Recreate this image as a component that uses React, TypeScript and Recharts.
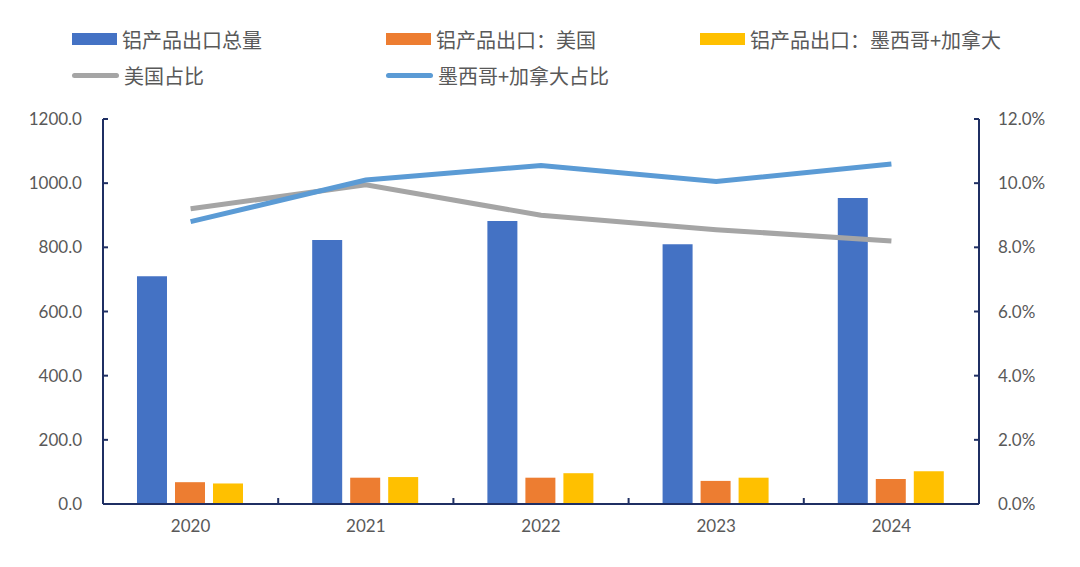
import React from 'react';
import {
  ComposedChart,
  Bar,
  Line,
  XAxis,
  YAxis,
} from 'recharts';

const years = ['2020', '2021', '2022', '2023', '2024'];
const totalExport = [710, 823, 882, 810, 954];
const usExport = [68, 82, 82, 72, 78];
const mxCaExport = [64, 84, 96, 82, 102];
const usShare = [9.2, 9.95, 9.0, 8.55, 8.2];
const mxCaShare = [8.8, 10.1, 10.55, 10.05, 10.6];

const leftTicks = [0, 200, 400, 600, 800, 1000, 1200];
const rightTicks = [0, 2, 4, 6, 8, 10, 12];

const data = years.map((year, i) => ({
  year,
  total: totalExport[i],
  us: usExport[i],
  mxca: mxCaExport[i],
  usShare: usShare[i],
  mxcaShare: mxCaShare[i],
}));

const NAVY = '#1f2f63';
const LABEL = '#595959';
const numFont = 'Lato, "Liberation Sans", sans-serif';
const cjkFont = '"Noto Sans CJK SC", "Noto Sans", sans-serif';
const X_TICK_MARGIN = 16;

const legendRows = [
  [
    { name: '铝产品出口总量', color: '#4472C4', kind: 'bar' },
    { name: '铝产品出口：美国', color: '#ED7D31', kind: 'bar' },
    { name: '铝产品出口：墨西哥+加拿大', color: '#FFC000', kind: 'bar' },
  ],
  [
    { name: '美国占比', color: '#A5A5A5', kind: 'line' },
    { name: '墨西哥+加拿大占比', color: '#5B9BD5', kind: 'line' },
  ],
];

// category label plus a small upward tick on the boundary to the next category
const YearTick = (props: any) => {
  const { x, y, payload, index, width, visibleTicksCount } = props;
  const count = visibleTicksCount || years.length;
  const band = (width || 876) / count;
  const axisY = y - X_TICK_MARGIN;
  const bx = x + band / 2;
  return (
    <g>
      <text
        x={x}
        y={y}
        dy="0.71em"
        textAnchor="middle"
        fill={LABEL}
        fontSize={17}
        fontFamily={numFont}
      >
        {payload.value}
      </text>
      {index < count - 1 && (
        <line x1={bx} x2={bx} y1={axisY} y2={axisY - 6} stroke={NAVY} strokeWidth={2} />
      )}
    </g>
  );
};

const App: React.FC = () => {
  return (
    <div
      style={{
        position: 'absolute',
        left: 0,
        top: 0,
        width: 1080,
        height: 567,
        background: '#fff',
        overflow: 'hidden',
      }}
    >
      {/* legend */}
      {legendRows.map((row, r) => (
        <div
          key={r}
          style={{ position: 'absolute', left: 0, top: r === 0 ? 26 : 62, height: 26 }}
        >
          {row.map((item, i) => (
            <div
              key={item.name}
              style={{
                position: 'absolute',
                left: 72 + i * 314,
                top: 0,
                display: 'flex',
                alignItems: 'center',
                height: 26,
                whiteSpace: 'nowrap',
              }}
            >
              <div
                style={{
                  width: item.kind === 'bar' ? 45 : 47,
                  height: item.kind === 'bar' ? 12 : 5,
                  borderRadius: item.kind === 'bar' ? 0 : 3,
                  background: item.color,
                  marginRight: 5,
                }}
              />
              <span style={{ fontFamily: cjkFont, fontSize: 20, color: LABEL }}>
                {item.name}
              </span>
            </div>
          ))}
        </div>
      ))}

      <div style={{ position: 'absolute', left: 0, top: 0 }}>
        <ComposedChart
          width={1080}
          height={567}
          data={data}
          margin={{ top: 119, right: 0, bottom: 0, left: 0 }}
          barCategoryGap="19.4%"
          barGap={8}
        >
          <XAxis
            dataKey="year"
            height={63}
            axisLine={{ stroke: NAVY, strokeWidth: 2 }}
            tickLine={false}
            tickSize={0}
            tickMargin={X_TICK_MARGIN}
            tick={<YearTick />}
            interval={0}
          />
          <YAxis
            yAxisId="left"
            orientation="left"
            width={103}
            domain={[0, 1200]}
            ticks={leftTicks}
            tickFormatter={(v: number) => v.toFixed(1)}
            axisLine={{ stroke: NAVY, strokeWidth: 2 }}
            tickLine={{ stroke: NAVY, strokeWidth: 2 }}
            tickSize={-5}
            tickMargin={26}
            tick={{ fill: LABEL, fontSize: 17, fontFamily: numFont }}
          />
          <YAxis
            yAxisId="right"
            orientation="right"
            width={101}
            domain={[0, 12]}
            ticks={rightTicks}
            tickFormatter={(v: number) => `${v.toFixed(1)}%`}
            axisLine={{ stroke: NAVY, strokeWidth: 2 }}
            tickLine={{ stroke: NAVY, strokeWidth: 2 }}
            tickSize={-5}
            tickMargin={24}
            tick={{ fill: LABEL, fontSize: 17, fontFamily: numFont }}
          />
          <Bar yAxisId="left" dataKey="total" fill="#4472C4" isAnimationActive={false} />
          <Bar yAxisId="left" dataKey="us" fill="#ED7D31" isAnimationActive={false} />
          <Bar yAxisId="left" dataKey="mxca" fill="#FFC000" isAnimationActive={false} />
          <Line
            yAxisId="right"
            dataKey="usShare"
            stroke="#A5A5A5"
            strokeWidth={5}
            dot={false}
            type="linear"
            isAnimationActive={false}
          />
          <Line
            yAxisId="right"
            dataKey="mxcaShare"
            stroke="#5B9BD5"
            strokeWidth={5}
            dot={false}
            type="linear"
            isAnimationActive={false}
          />
        </ComposedChart>
      </div>
    </div>
  );
};

export default App;
